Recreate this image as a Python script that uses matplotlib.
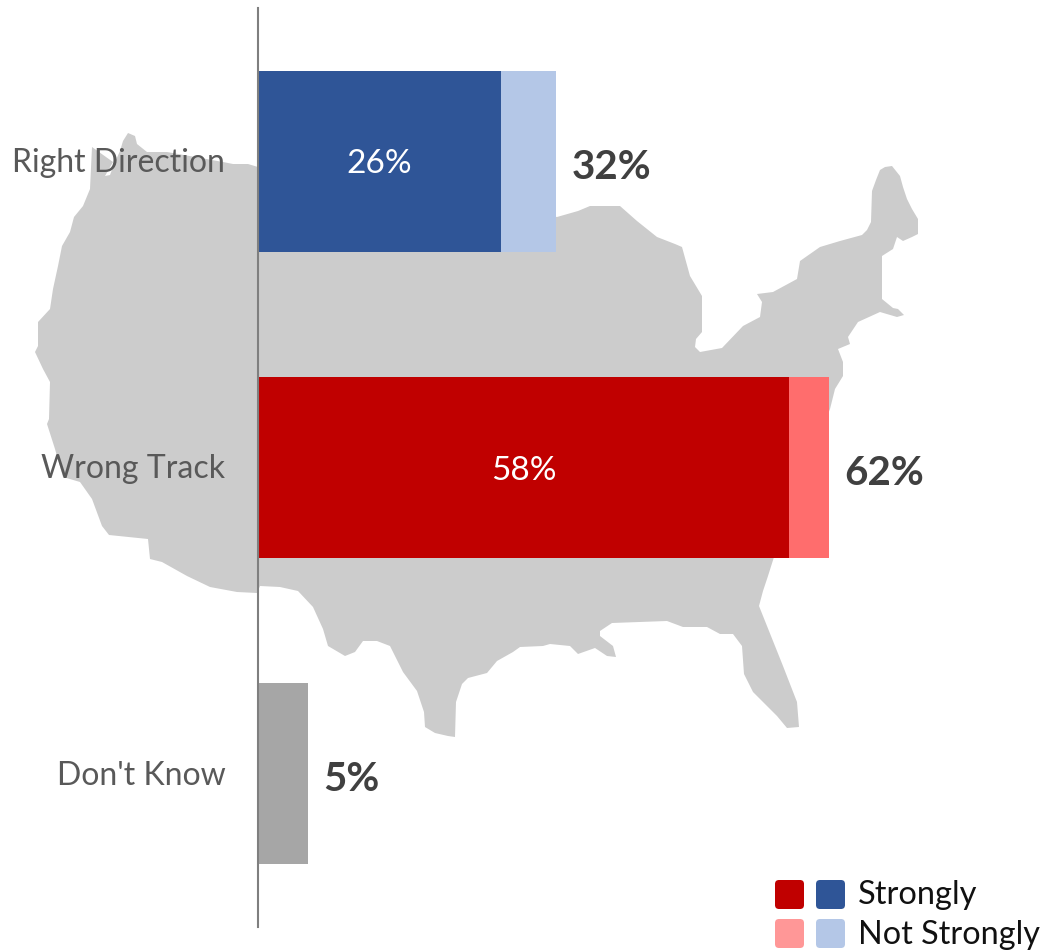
import matplotlib
matplotlib.use("Agg")
from matplotlib import pyplot as plt
from matplotlib.patches import FancyBboxPatch, Polygon

plt.rcParams['font.family'] = ['Lato', 'DejaVu Sans']

# data
categories = ["Right Direction", "Wrong Track", "Don't Know"]
strong_vals = [26.4, 57.7, 5.4]
not_strong_vals = [6.0, 4.4, 0]
strong_labels = ["26%", "58%", ""]
total_labels = ["32%", "62%", "5%"]
strong_colors = ["#2F5597", "#C00000", "#A6A6A6"]
not_strong_colors = ["#B4C7E7", "#FF6D6D", "#A6A6A6"]
legend_labels = ["Strongly", "Not Strongly"]

# background map outline, traced in image pixels
map_x = [258, 248, 233, 223, 167, 147, 137, 135, 128, 123, 120, 115, 110, 105, 113, 92, 90, 83, 74, 70, 62, 58, 53, 50, 38, 38, 35, 43,
         50, 49, 47, 55, 63, 80, 92, 102, 109, 148, 150, 162, 187, 210, 237, 257, 260, 280, 298, 313, 323, 328, 345, 355, 363, 377,
         390, 403, 417, 424, 425, 435, 448, 455, 456, 462, 468, 487, 497, 513, 520, 543, 550, 570, 578, 595, 607, 616, 613, 600, 600,
         612, 667, 683, 707, 720, 733, 742, 744, 753, 777, 787, 799, 797, 783, 767, 759, 763, 768, 774, 830, 835, 843, 843, 838, 850,
         848, 858, 880, 897, 904, 898, 893, 882, 882, 893, 897, 903, 912, 918, 918, 912, 907, 903, 900, 892, 885, 880, 876, 872, 871, 867, 862, 840, 820, 800, 797,
         773, 757, 762, 760, 743, 722, 700, 695, 696, 702, 702, 690, 682, 675, 657, 637, 620, 590, 578, 557]
map_y = [168, 165, 165, 163, 153, 153, 145, 137, 134, 142, 152, 163, 176, 177, 163, 148, 190, 207, 218, 233, 247, 267, 290, 310, 323, 347, 353, 370,
         383, 420, 425, 450, 478, 483, 500, 527, 536, 540, 560, 563, 577, 588, 593, 594, 587, 588, 592, 608, 630, 647, 657, 653, 642, 642,
         647, 673, 692, 713, 728, 734, 737, 738, 703, 685, 679, 674, 662, 653, 648, 647, 645, 647, 655, 649, 657, 658, 647, 637, 632,
         624, 622, 628, 628, 635, 635, 647, 675, 693, 717, 729, 728, 703, 667, 627, 607, 592, 577, 558, 410, 390, 377, 363, 350, 345,
         338, 323, 313, 318, 316, 310, 309, 300, 257, 250, 238, 242, 238, 235, 220, 210, 200, 188, 177, 167, 168, 171, 181, 192, 223, 231, 236, 242, 248, 262, 280,
         293, 295, 303, 318, 327, 349, 353, 348, 340, 333, 297, 277, 248, 245, 238, 222, 207, 207, 212, 218]

W, H = 1042, 953
fig = plt.figure(figsize=(W / 100, H / 100), dpi=100)

# pixel axes for the map and legend
bg = fig.add_axes([0, 0, 1, 1])
bg.set_xlim(0, W)
bg.set_ylim(H, 0)
bg.axis('off')
bg.add_patch(Polygon(list(zip(map_x, map_y)), closed=True, facecolor="#CCCCCC", edgecolor="none"))

# bars
ax = fig.add_axes([258 / W, 1 - 928 / H, (W - 258) / W, 919 / H])
ax.patch.set_alpha(0)
ypos = list(range(len(categories)))
ax.barh(ypos, strong_vals, height=0.59, color=strong_colors)
ax.barh(ypos, not_strong_vals, left=strong_vals, height=0.59, color=not_strong_colors)
ax.set_xlim(0, (W - 258) / 9.2)
ax.set_ylim(2.5, -0.5)
ax.set_xticks([])
ax.set_yticks([])
for side in ['top', 'right', 'bottom']:
    ax.spines[side].set_visible(False)
ax.spines['left'].set_color("#7F7F7F")
ax.spines['left'].set_linewidth(1.5)

for i in ypos:
    ax.annotate(categories[i], (0, i), xytext=(-23.5, -0.5), textcoords='offset points', color="#595959",
                fontsize=23, ha='right', va='center')
    if strong_labels[i]:
        ax.annotate(strong_labels[i], (strong_vals[i] / 2, i), xytext=(0, -1.5), textcoords='offset points',
                    color="white", fontsize=24, ha='center', va='center')
    ax.annotate(total_labels[i], (strong_vals[i] + not_strong_vals[i], i), xytext=(11, -3.5),
                textcoords='offset points', color="#404040", fontsize=29, fontweight='bold', ha='left', va='center')

# legend
def swatch(x, y, color):
    bg.add_patch(FancyBboxPatch((x + 4, y + 4), 21, 21, boxstyle="round,pad=4,rounding_size=4",
                                facecolor=color, edgecolor="none"))

swatch(775, 881, "#C00000")
swatch(816, 881, "#2F5597")
swatch(775, 920, "#FF9797")
swatch(816, 920, "#B4C7E7")
bg.text(858, 895, legend_labels[0], fontsize=23.5, color="#111111", ha='left', va='center')
bg.text(858, 935, legend_labels[1], fontsize=23.3, color="#111111", ha='left', va='center')

plt.savefig("out.png", dpi=100)
